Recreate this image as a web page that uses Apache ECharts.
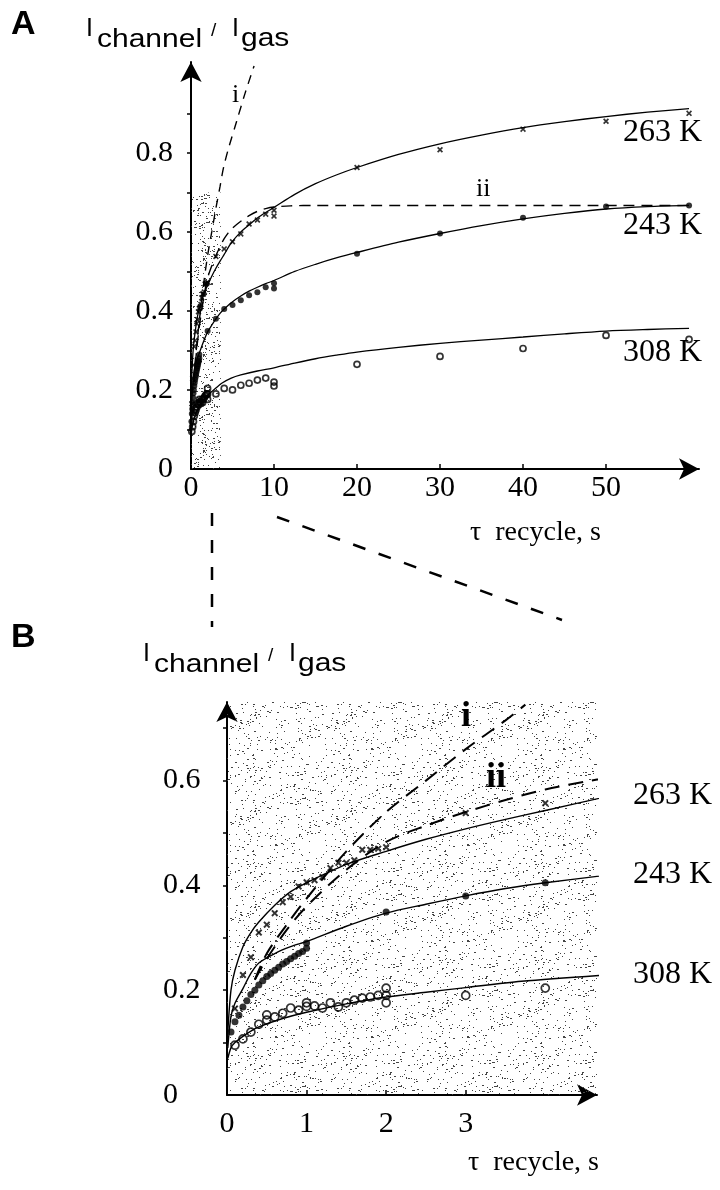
<!DOCTYPE html>
<html><head><meta charset="utf-8">
<script src="https://cdn.jsdelivr.net/npm/echarts@6/dist/echarts.min.js"></script>
<style>html,body{margin:0;padding:0;background:#fff}#c{width:720px;height:1190px}</style>
</head><body><div id="c"></div>
<script>
// ---------- data (tau recycle [s], I_channel / I_gas) ----------
const pts263 = [[0.1,0.165],[0.2,0.229],[0.3,0.263],[0.4,0.31],[0.5,0.325],[0.6,0.347],[0.7,0.368],[0.8,0.378],[0.9,0.398],[1.0,0.406],
  [1.1,0.41],[1.2,0.416],[1.3,0.433],[1.4,0.443],[1.5,0.443],[1.6,0.448],[1.7,0.468],[1.8,0.468],[1.9,0.47],[2.0,0.473],
  [3,0.538],[4,0.557],[5,0.575],[6,0.595],[7,0.62],[8,0.63],[9,0.645],[10,0.655],[10,0.64],[20,0.763],[30,0.808],[40,0.86],[50,0.88],[60,0.9]];
const pts243 = [[0.05,0.12],[0.1,0.14],[0.15,0.152],[0.2,0.168],[0.25,0.18],[0.3,0.192],[0.35,0.2],[0.4,0.21],[0.45,0.218],[0.5,0.226],
  [0.55,0.232],[0.6,0.238],[0.65,0.244],[0.7,0.25],[0.75,0.255],[0.8,0.26],[0.85,0.265],[0.9,0.27],[0.95,0.274],[1.0,0.28],[1.0,0.29],
  [2,0.349],[3,0.38],[4,0.405],[5,0.415],[6,0.427],[7,0.44],[8,0.447],[9,0.46],[10,0.47],[10,0.457],[20,0.545],[30,0.596],[40,0.636],[50,0.664],[60,0.667]];
const pts308 = [[0.1,0.095],[0.2,0.107],[0.3,0.12],[0.4,0.135],[0.5,0.143],[0.5,0.153],[0.6,0.149],[0.7,0.156],[0.8,0.166],[0.9,0.162],
  [1.0,0.176],[1.0,0.169],[1.1,0.17],[1.2,0.166],[1.3,0.176],[1.4,0.168],[1.5,0.176],[1.6,0.181],[1.7,0.185],[1.8,0.187],[1.9,0.19],
  [2.0,0.204],[2.0,0.19],[2.0,0.176],[3,0.19],[4,0.204],[5,0.2],[6,0.212],[7,0.217],[8,0.225],[9,0.23],[10,0.22],[10,0.21],
  [20,0.265],[30,0.285],[40,0.305],[50,0.338],[60,0.328]];
// fitted curves
const fit263 = [[0.01,0.12],[0.05,0.2],[0.1,0.238],[0.2,0.283],[0.3,0.31],[0.4,0.33],[0.6,0.362],[0.8,0.388],[1.0,0.405],[1.5,0.44],[2.0,0.465],
  [2.5,0.488],[3.0,0.508],[3.5,0.526],[4.0,0.543],[4.85,0.572],[6,0.6],[7,0.618],[8,0.635],[9,0.649],[10,0.662],[12.5,0.695],[15,0.722],
  [17.5,0.744],[20,0.763],[25,0.796],[30,0.823],[35,0.845],[40,0.864],[45,0.879],[50,0.892],[55,0.903],[60,0.912]];
const fit243 = [[0.01,0.09],[0.05,0.15],[0.1,0.175],[0.2,0.203],[0.3,0.232],[0.4,0.252],[0.6,0.27],[0.8,0.283],[1.0,0.293],[1.5,0.322],[2.0,0.347],
  [2.5,0.364],[3.0,0.38],[3.5,0.394],[4.0,0.405],[4.85,0.421],[6,0.438],[7,0.45],[8,0.46],[9,0.469],[10,0.477],[12.5,0.5],[15,0.518],
  [17.5,0.534],[20,0.548],[25,0.574],[30,0.596],[35,0.616],[40,0.633],[45,0.647],[50,0.658],[55,0.664],[60,0.667]];
const fit308 = [[0.01,0.07],[0.05,0.09],[0.1,0.1],[0.2,0.112],[0.3,0.122],[0.4,0.13],[0.7,0.146],[1.0,0.158],[1.5,0.174],[2.0,0.187],[2.5,0.196],
  [3.0,0.205],[3.7,0.217],[4.85,0.23],[6,0.238],[8,0.248],[10,0.256],[12.5,0.268],[15,0.279],[17.5,0.288],[20,0.296],[25,0.308],[30,0.318],
  [35,0.326],[40,0.334],[45,0.342],[50,0.349],[55,0.353],[60,0.356]];
const lineI  = [[0.35,0.22],[0.5,0.27],[0.75,0.325],[1.0,0.375],[1.5,0.465],[2.0,0.54],[2.5,0.6],[3.0,0.66],[3.5,0.715],[3.75,0.745],[4.0,0.77],
  [4.5,0.81],[5.5,0.88],[6.5,0.95],[7.6,1.02]];
const lineII = [[0.35,0.22],[0.5,0.26],[0.75,0.315],[1.0,0.36],[1.5,0.43],[2.0,0.483],[2.5,0.514],[3.0,0.54],[3.5,0.563],[4.0,0.583],[4.5,0.598],
  [4.85,0.607],[6,0.627],[7,0.641],[8,0.652],[9,0.659],[10,0.663],[12,0.666],[15,0.667],[60,0.667]];
const tempLabels = ['263 K','243 K','308 K'];
const xTicksA = [10,20,30,40,50], xLabelsA = [0,10,20,30,40,50];
const yTicksA = [0.1,0.2,0.3,0.4,0.5,0.6,0.7,0.8,0.9], yLabelsA = [0,0.2,0.4,0.6,0.8];
const xTicksB = [1,2,3], xLabelsB = [0,1,2,3];
const yTicksB = [0.1,0.2,0.3,0.4,0.5,0.6,0.7], yLabelsB = [0,0.2,0.4,0.6];
// axis ranges and shaded (zoomed) region
const X_A_MAX = 61.2, Y_A_MAX = 1.03, X_B_MAX = 4.65, Y_B_MAX = 0.75;
const SHADE_A = [3.6, 0.70];

// ---------- helpers ----------
const SERIF = '"Liberation Serif","Times New Roman",serif';
const SANS = '"Liberation Sans",Arial,sans-serif';
function stipple(n, size, col){
  const c = document.createElement('canvas'); c.width = c.height = size;
  const g = c.getContext('2d'); g.fillStyle = col;
  let s = 987654321;
  const r = () => { s = (s * 1103515245 + 12345) & 0x7fffffff; return s / 0x7fffffff; };
  for (let i = 0; i < n; i++) { const x = Math.floor(r()*size), y = Math.floor(r()*size); g.fillRect(x, y, r() < 0.25 ? 2 : 1, 1); }
  return c;
}
const patA = stipple(620, 96, '#444');
const patB = stipple(330, 96, '#444');
const cross = 'path://M0,2L2,0L5,3L8,0L10,2L7,5L10,8L8,10L5,7L2,10L0,8L3,5Z';
const inB = p => p[0] <= 4.85 && p[1] <= Y_B_MAX;
const inBpts = p => p[0] <= X_B_MAX;

function axisX(grid, max, ticks, labels, margin){
  return {type:'value', gridIndex:grid, min:0, max:max,
    axisLine:{show:true, onZero:false, lineStyle:{color:'#000', width:2}, symbol:['none','arrow'], symbolSize:[16,20]},
    axisTick:{show:true, inside:true, length:5, customValues:ticks, lineStyle:{color:'#000', width:1.5}},
    axisLabel:{customValues:labels, fontFamily:SERIF, fontSize:30, color:'#000', margin:margin},
    splitLine:{show:false}};
}
function axisY(grid, max, ticks, labels, lab){
  return {type:'value', gridIndex:grid, min:0, max:max,
    axisLine:{show:true, onZero:false, lineStyle:{color:'#000', width:2}, symbol:['none','arrow'], symbolSize:[16,20]},
    axisTick:{show:true, inside:false, length:4, customValues:ticks, lineStyle:{color:'#000', width:1.5}},
    axisLabel:Object.assign({customValues:labels, fontFamily:SERIF, fontSize:30, color:'#000',
      formatter: v => v === 0 ? '0' : v.toFixed(1)}, lab),
    splitLine:{show:false}};
}
function curve(data, g, lw){
  return {type:'line', xAxisIndex:g, yAxisIndex:g, data:data, smooth:0.3, showSymbol:false,
    clip: g === 0, silent:true, lineStyle:{color:'#000', width:lw}, z:3};
}
function dashed(data, g, lw, dash){
  return {type:'line', xAxisIndex:g, yAxisIndex:g, data:data, smooth:0.3, showSymbol:false,
    clip: g === 0, silent:true, lineStyle:{color:'#000', width:lw, type:dash}, z:3};
}
function pts(data, g, symbol, size, filled){
  return {type:'scatter', xAxisIndex:g, yAxisIndex:g, data:data, symbol:symbol, symbolSize:size, silent:true, z:4,
    itemStyle: filled ? {color:'#000'} : {color:'rgba(255,255,255,0)', borderColor:'#000', borderWidth:1.7}};
}

const chart = echarts.init(document.getElementById('c'), null, {renderer:'canvas'});
const seriesA = [
  Object.assign(curve(fit263,0,1.3), {markArea:{silent:true, itemStyle:{color:{image:patA, repeat:'repeat'}},
    data:[[{coord:[0,0]},{coord:SHADE_A}]]}}),
  curve(fit243,0,1.3), curve(fit308,0,1.3),
  dashed(lineI,0,1.4,[9,7]), dashed(lineII,0,1.4,[11,7]),
  pts(pts263,0,cross,6,true), pts(pts243,0,'circle',6,true), pts(pts308,0,'circle',6,false)
];
const seriesB = [
  Object.assign(curve(fit263.filter(inB),1,1.4), {markArea:{silent:true, itemStyle:{color:{image:patB, repeat:'repeat'}},
    data:[[{coord:[0,0]},{coord:[X_B_MAX,Y_B_MAX]}]]}}),
  curve(fit243.filter(inB),1,1.4), curve(fit308.filter(inB),1,1.4),
  dashed(lineI.filter(inB),1,2,[15,9]), dashed(lineII.filter(inB),1,2,[15,9]),
  pts(pts263.filter(inBpts),1,cross,7,true), pts(pts243.filter(inBpts),1,'circle',7,true), pts(pts308.filter(inBpts),1,'circle',8,false)
];

chart.setOption({
  animation:false, backgroundColor:'#fff',
  grid:[{left:191, top:62, width:508, height:407},{left:227, top:702, width:370, height:393}],
  xAxis:[axisX(0, X_A_MAX, xTicksA, xLabelsA, 4), axisX(1, X_B_MAX, xTicksB, xLabelsB, 14)],
  yAxis:[axisY(0, Y_A_MAX, yTicksA, yLabelsA, {margin:18}), axisY(1, Y_B_MAX, yTicksB, yLabelsB, {margin:64, align:'left'})],
  series: seriesA.concat(seriesB)
});

// ---------- annotations ----------
function txt(x, y, text, font, extra){
  return Object.assign({type:'text', x:x, y:y, silent:true, z:10,
    style:{text:text, font:font, fill:'#000', textVerticalAlign:'middle'}}, extra || {});
}
function yTitle(dx, dy){
  const f = '25px ' + SANS;
  return [
    txt(86+dx, 29+dy, 'I', f),
    txt(97+dx, 40+dy, 'channel', f, {scaleX:1.2}),
    txt(211+dx, 31+dy, '/', '19px ' + SANS),
    txt(232+dx, 29+dy, 'I', f),
    txt(241+dx, 39+dy, 'gas', f, {scaleX:1.2})
  ];
}
const fits = [fit263, fit243, fit308];
const offA = [[-66,24],[-66,20],[-66,24]];
const tempG = [];
fits.forEach((f, i) => {
  const ea = f[f.length-1], pa = chart.convertToPixel({gridIndex:0}, ea);
  tempG.push(txt(pa[0]+offA[i][0], pa[1]+offA[i][1], tempLabels[i], '32px ' + SERIF));
  const fb = f.filter(inB), eb = fb[fb.length-1], pb = chart.convertToPixel({gridIndex:1}, eb);
  tempG.push(txt(pb[0]+20, pb[1], tempLabels[i], '32px ' + SERIF));
});
const dashStyle = {stroke:'#000', lineWidth:2.5, lineDash:[13,14]};
const axTitle = (x, y) => ({type:'text', x:x, y:y, silent:true, z:10,
  style:{text:'τ  recycle, s', font:'28px ' + SERIF, fill:'#000', textAlign:'right', textVerticalAlign:'middle'}});
chart.setOption({graphic: [
  txt(11, 25, 'A', 'bold 34px ' + SANS),
  txt(11, 638, 'B', 'bold 34px ' + SANS),
  ...yTitle(0,0), ...yTitle(57,625),
  axTitle(601, 533), axTitle(599, 1163),
  txt(232, 95, 'i', '26px ' + SERIF),
  txt(476, 189, 'ii', '26px ' + SERIF),
  txt(461, 717, 'i', 'bold 36px ' + SERIF),
  txt(486, 778, 'ii', 'bold 36px ' + SERIF),
  {type:'line', silent:true, shape:{x1:212, y1:513, x2:212, y2:627}, style:dashStyle},
  {type:'line', silent:true, shape:{x1:277, y1:517, x2:562, y2:620}, style:dashStyle},
  ...tempG
]});
</script></body></html>
